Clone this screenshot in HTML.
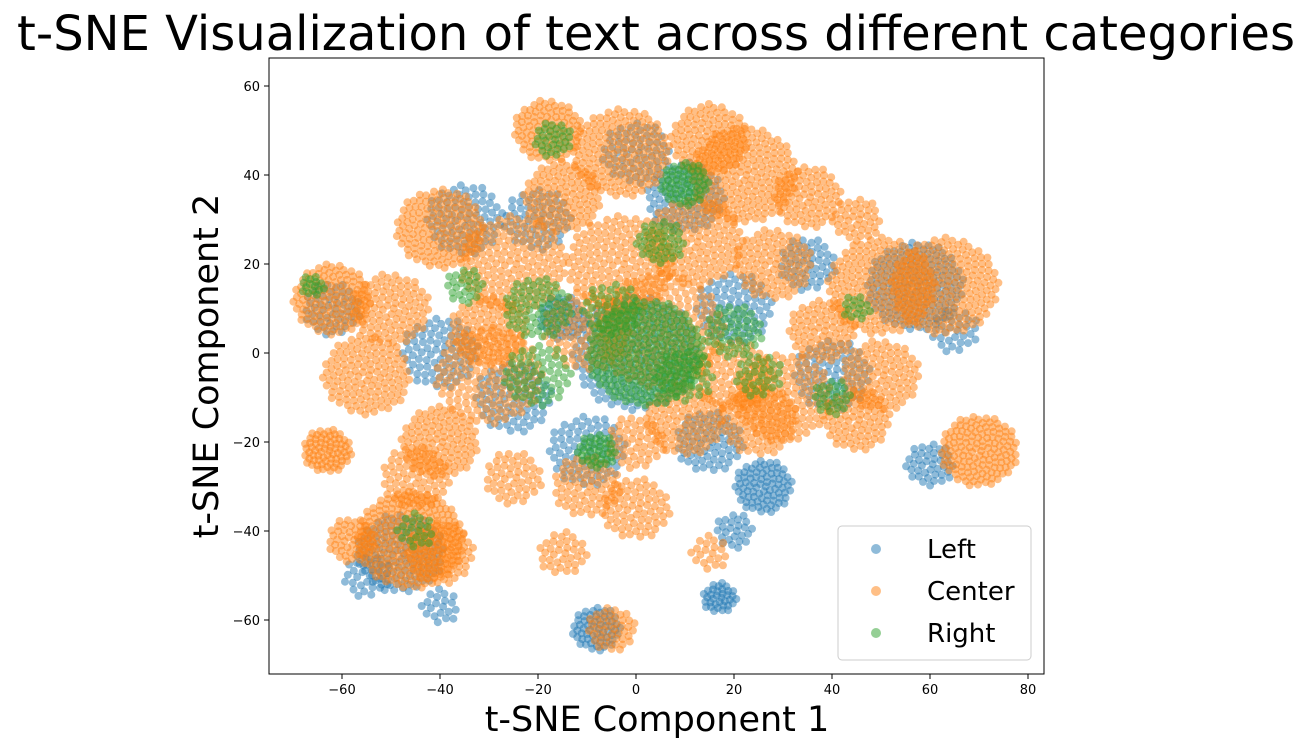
<!DOCTYPE html>
<html><head><meta charset="utf-8">
<style>
body{margin:0;background:#fff;}
svg{display:block;font-family:"DejaVu Sans","Liberation Sans",sans-serif;}
</style></head>
<body>
<svg id="chart" width="1313" height="747" viewBox="0 0 1313 747" xmlns="http://www.w3.org/2000/svg">
<text x="656" y="50" font-size="48" text-anchor="middle" fill="#000">t-SNE Visualization of text across different categories</text>
<g id="points"></g>
<rect x="269" y="58" width="775" height="616" fill="none" stroke="#000" stroke-width="1"/>
<g id="xticks"></g>
<g id="yticks"></g>
<text x="657" y="731" font-size="35" text-anchor="middle">t-SNE Component 1</text>
<text transform="translate(218,366) rotate(-90)" font-size="35" text-anchor="middle">t-SNE Component 2</text>
<g>
<rect x="838" y="526" width="193" height="134" rx="4" fill="#fff" fill-opacity="0.85" stroke="#ccc"/>
<circle cx="876" cy="549" r="5" fill="#1f77b4" fill-opacity="0.5"/>
<text x="927" y="558" font-size="26">Left</text>
<circle cx="876" cy="591" r="5" fill="#ff7f0e" fill-opacity="0.5"/>
<text x="927" y="600" font-size="26">Center</text>
<circle cx="876" cy="633" r="5" fill="#2ca02c" fill-opacity="0.5"/>
<text x="927" y="642" font-size="26">Right</text>
</g>
</svg>
<script>
// Cluster blobs: [centerX, centerY, radius, pointCount]
const leftClusters = [[-8,-62,5,60],[17,-55,3.5,35],[26,-30,6,80],[-15,8,5,50],[0,0,13,220],[57,15,10,170],[60,-25,5,40],[-48,-45,9,120],[-40,0,8,80],[10,35,8,90],[15,-20,7,70],[20,-40,4,25],[-10,-22,8,80],[40,-5,8,80],[-62,10,6,50],[35,20,6,50],[-35,30,8,80],[-25,-10,8,80],[0,45,7,60],[-55,-50,5,30],[-40,-57,4,20],[20,10,8,80],[-20,30,7,60],[65,5,5,30]];
const centerClusters = [[-62,12,8,130],[-63,-22,5,70],[-55,-5,9,130],[-46,-42,11,260],[-40,28,9,150],[-40,-20,8,110],[-25,20,11,170],[-18,50,7,100],[-15,35,8,110],[-3,45,10,170],[-3,20,11,170],[5,5,13,200],[12,25,10,150],[15,48,8,110],[22,40,11,200],[28,20,8,100],[30,-10,10,140],[25,-15,8,100],[50,15,11,200],[63,15,11,200],[50,-5,8,100],[70,-22,8,140],[45,-15,7,80],[-10,-30,7,70],[0,-35,7,70],[-30,-5,11,150],[-50,10,8,100],[-15,-45,5,35],[-5,-62,5,45],[38,5,7,80],[-30,5,8,100],[10,-15,8,100],[15,-45,4,20],[-58,-42,5,50],[45,30,5,40],[-10,5,9,100],[35,35,7,80],[-45,-28,7,70],[20,-5,8,90],[-25,-28,6,50],[0,-20,6,50],[-40,-45,7,80]];
const rightClusters = [[2,0,12,280],[10,38,5,60],[-20,10,7,70],[20,5,6,50],[-8,-22,4,40],[-45,-40,4,20],[-17,48,4,30],[5,25,5,40],[40,-10,4,25],[-35,15,4,25],[-66,15,2.5,15],[-20,-5,7,60],[25,-5,5,30],[-5,10,6,40],[10,-5,6,40],[45,10,3,15]];
const seriesColors = ['#1f77b4','#ff7f0e','#2ca02c'];
const xTicks = [-60,-40,-20,0,20,40,60,80];
const yTicks = [-60,-40,-20,0,20,40,60];

const NS='http://www.w3.org/2000/svg';
function xs(v){return 636+v*4.9;}
function ys(v){return 353-v*4.45;}

const pg=document.getElementById('points');
[leftClusters,centerClusters,rightClusters].forEach((cl,si)=>{
  const names=['left','center','right'];
  cl.forEach(c=>{
    const [cx,cy,R,n]=c;
    for(let i=0;i<n;i++){
      const r=R*Math.sqrt((i+0.5)/n), a=i*2.39996;
      const el=document.createElementNS(NS,'circle');
      el.setAttribute('cx',xs(cx+r*Math.cos(a)).toFixed(1));
      el.setAttribute('cy',ys(cy+r*Math.sin(a)).toFixed(1));
      el.setAttribute('r',4);
      el.setAttribute('fill',seriesColors[si]);
      el.setAttribute('fill-opacity',0.5);
      
      
      pg.appendChild(el);
    }
  });
});
const xg=document.getElementById('xticks');
xTicks.forEach(t=>{
  const l=document.createElementNS(NS,'line');
  l.setAttribute('x1',xs(t));l.setAttribute('x2',xs(t));l.setAttribute('y1',674);l.setAttribute('y2',679);l.setAttribute('stroke','#000');
  
  
  xg.appendChild(l);
  const tx=document.createElementNS(NS,'text');
  tx.setAttribute('x',xs(t));tx.setAttribute('y',694);tx.setAttribute('font-size',13);tx.setAttribute('text-anchor','middle');
  tx.textContent=(t<0?'\u2212'+(-t):t);
  
  
  xg.appendChild(tx);
});
const yg=document.getElementById('yticks');
yTicks.forEach(t=>{
  const l=document.createElementNS(NS,'line');
  l.setAttribute('x1',264);l.setAttribute('x2',269);l.setAttribute('y1',ys(t));l.setAttribute('y2',ys(t));l.setAttribute('stroke','#000');
  
  
  yg.appendChild(l);
  const tx=document.createElementNS(NS,'text');
  tx.setAttribute('x',260);tx.setAttribute('y',ys(t)+5);tx.setAttribute('font-size',13);tx.setAttribute('text-anchor','end');
  tx.textContent=(t<0?'\u2212'+(-t):t);
  
  
  yg.appendChild(tx);
});
</script>
</body></html>
